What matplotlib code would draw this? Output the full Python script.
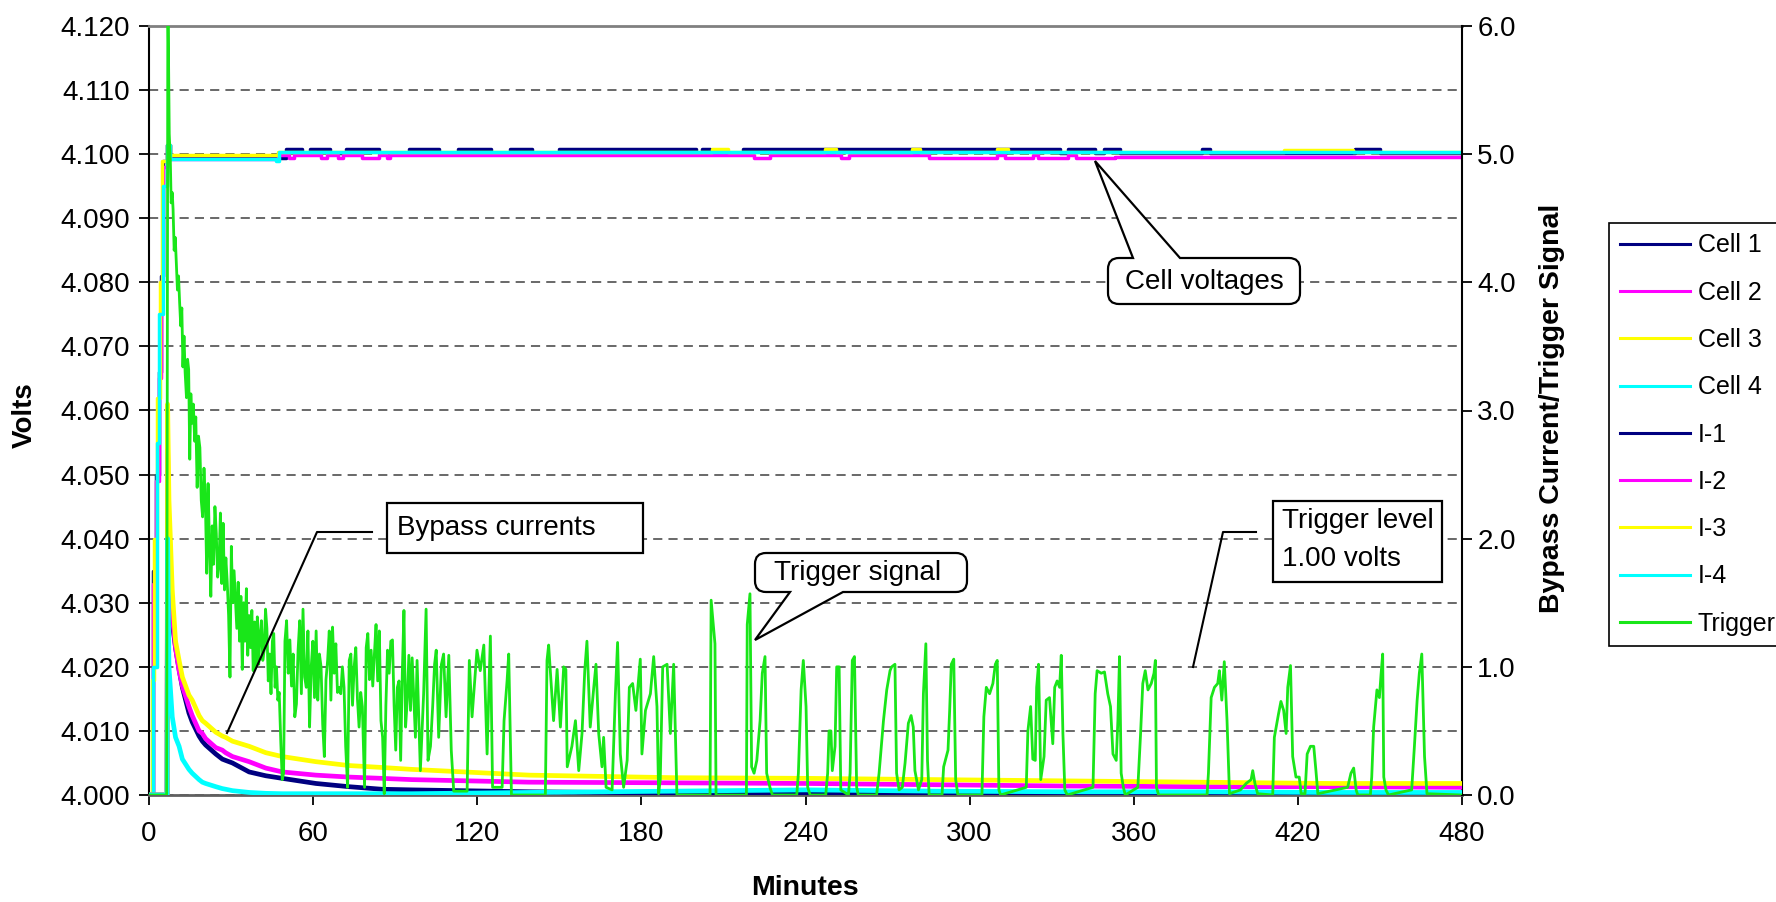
import matplotlib
matplotlib.use('Agg')
import matplotlib.pyplot as plt
from matplotlib.path import Path
from matplotlib.patches import PathPatch, Rectangle
from matplotlib.lines import Line2D
from matplotlib.transforms import Affine2D
from matplotlib.ticker import FormatStrFormatter, MultipleLocator

plt.rcParams['font.family'] = ['Liberation Sans', 'DejaVu Sans']

# ---------------- data ----------------
x_ticks = [0, 60, 120, 180, 240, 300, 360, 420, 480]

# cell voltages (left axis, volts) - step data
cell1_t = [0, 1.5, 2.5, 3.5, 4.3, 5.0, 6.5, 7.5, 50, 56, 59, 66, 72, 84, 95, 106, 113, 125,
           132, 140, 150, 200, 202, 205, 217, 333, 336, 346, 349, 355, 385, 388, 441, 450, 480]
cell1_v = [3.99, 4.035, 4.050, 4.066, 4.081, 4.099, 4.1015, 4.0994, 4.1008, 4.1002, 4.1008,
           4.1002, 4.1008, 4.1002, 4.1008, 4.1002, 4.1008, 4.1002, 4.1008, 4.1002, 4.1008,
           4.1002, 4.1008, 4.1002, 4.1008, 4.1002, 4.1008, 4.1002, 4.1008, 4.1002, 4.1008,
           4.1002, 4.1008, 4.1002, 4.1002]
cell2_t = [0, 1.5, 2.5, 3.5, 4.3, 5.0, 6.5, 7.5, 47, 51, 53, 63, 65, 69, 71, 78, 84, 87, 88,
           221, 227, 253, 256, 285, 310, 313, 323, 325, 336, 339, 353, 480]
cell2_v = [3.99, 4.033, 4.049, 4.065, 4.080, 4.098, 4.1015, 4.0993, 4.0998, 4.0994, 4.0998,
           4.0994, 4.0998, 4.0994, 4.0998, 4.0994, 4.0998, 4.0994, 4.0998, 4.0994, 4.0998,
           4.0994, 4.0998, 4.0994, 4.0998, 4.0994, 4.0998, 4.0994, 4.0998, 4.0994, 4.0995, 4.0995]
cell3_t = [0, 1.2, 2.0, 3.0, 4.0, 4.9, 6.5, 7.5, 47, 206, 211.5, 247, 251, 279, 282, 310, 314,
           415, 440, 480]
cell3_v = [3.99, 4.018, 4.040, 4.062, 4.080, 4.099, 4.1015, 4.0999, 4.1003, 4.1008, 4.1003,
           4.1008, 4.1003, 4.1008, 4.1003, 4.1008, 4.1003, 4.1007, 4.1003, 4.1003]
cell4_t = [0, 0.9, 1.5, 2.8, 3.7, 5.2, 6.5, 7.5, 46.5, 47.5, 480]
cell4_v = [3.99, 4.000, 4.020, 4.055, 4.075, 4.095, 4.1015, 4.0993, 4.0990, 4.1003, 4.1003]

# bypass currents (right axis, amps)
curr_t = [0, 6.6, 6.8, 7.3, 8.5, 9.7, 11.0, 12.2, 14.6, 15.8, 18.3, 19.5, 20.7, 24.4, 26.8,
          28.0, 30.5, 36.6, 42.7, 48.7, 61.0, 73.0, 85.0, 96.0, 139.0, 192.0, 240.0, 288.0,
          336.0, 384.0, 432.0, 480.0]
i1_v = [0, 0, 2.2, 1.6, 1.35, 1.15, 0.98, 0.84, 0.64, 0.57, 0.46, 0.42, 0.39, 0.32, 0.28,
        0.27, 0.25, 0.18, 0.15, 0.13, 0.09, 0.065, 0.045, 0.04, 0.025, 0.015, 0.01, 0.01,
        0.008, 0.006, 0.005, 0.005]
i2_v = [0, 0, 2.7, 1.9, 1.40, 1.15, 0.97, 0.85, 0.69, 0.62, 0.50, 0.48, 0.44, 0.37, 0.35,
        0.33, 0.30, 0.26, 0.21, 0.18, 0.155, 0.14, 0.13, 0.12, 0.10, 0.095, 0.09, 0.08,
        0.07, 0.065, 0.065, 0.06]
i3_v = [0, 0, 3.05, 2.3, 1.6, 1.2, 1.05, 0.92, 0.78, 0.74, 0.62, 0.58, 0.56, 0.49, 0.46,
        0.45, 0.42, 0.38, 0.33, 0.30, 0.26, 0.23, 0.215, 0.20, 0.155, 0.135, 0.13, 0.12,
        0.11, 0.10, 0.09, 0.09]
i4_v = [0, 0, 2.0, 1.0, 0.61, 0.45, 0.38, 0.28, 0.20, 0.17, 0.12, 0.10, 0.09, 0.065, 0.05,
        0.045, 0.034, 0.02, 0.013, 0.01, 0.01, 0.01, 0.01, 0.01, 0.02, 0.03, 0.04, 0.03,
        0.025, 0.025, 0.02, 0.02]

# trigger signal (right axis, volts)
trig_t = [0, 6.45, 6.9, 7.4, 7.8, 8.1, 8.5, 8.8, 9.2, 9.6, 9.9, 10.4, 10.8, 11.2, 11.6, 12.0,
          12.4, 12.8, 13.2, 13.7, 14.1, 14.5, 14.9, 15.3, 15.7, 16.2, 16.7, 17.1, 17.6, 18.1,
          18.6, 19.1, 19.6, 20.1, 20.6, 21.1, 21.6, 22.1, 22.6, 23.1, 23.6, 24.1, 24.6, 25.1,
          25.6, 26.1, 26.6, 27.1, 27.6, 28.1, 28.6, 29.1, 29.6, 30.1, 30.6, 31.1, 31.6, 32.1,
          32.6, 33.1, 33.6, 34.1, 34.6, 35.1, 35.6, 36.1, 36.6, 37.1, 37.6, 38.1, 38.6, 39.1,
          39.6, 40.1, 40.6, 41.1, 41.6, 42.1, 42.6, 43.1, 43.6, 44.1, 44.6, 45.1, 45.6, 46.1,
          46.6, 47.1, 47.6, 48.2, 48.7, 49.2, 49.7, 50.3,
          50.9, 51.5, 52.1, 52.7, 53.3, 53.9, 54.5, 55.1, 55.7, 56.3, 56.9, 57.5, 58.1, 58.7,
          59.3, 59.9, 60.5, 61.1, 61.7, 62.3, 62.9, 63.5, 64.1, 64.7, 65.3, 65.9, 66.5, 67.1,
          67.7, 68.3, 68.9, 69.5, 70.1, 70.7, 71.3, 71.9, 72.6, 73.2, 73.8, 74.4, 75.0, 75.6,
          76.2, 76.8, 77.4, 78.0, 78.8, 79.4, 80.0, 80.6, 81.2, 81.8, 82.4, 83.0, 83.6, 84.2,
          84.8, 85.4, 86.0, 86.6, 87.2, 87.8, 88.4, 89.0, 89.6, 90.2, 90.8, 91.4, 92.0, 92.6,
          93.2, 93.8, 94.4, 95.0, 95.6,
          96.2, 97.4, 98.0, 99.2, 100.4, 101.3, 102.0, 102.9, 103.7, 104.4, 105.0, 105.9,
          106.9, 107.7, 108.6, 109.6, 110.5, 111.4, 116.3, 117.1, 118.1, 119.9, 121.1, 122.4,
          123.6, 124.8, 125.6, 129.1, 129.8, 130.9, 131.5, 132.5, 144.9, 145.5, 146.1, 147.9,
          149.2, 150.4, 151.6, 152.4, 152.9, 154.6, 155.9, 157.1, 158.3, 159.3, 160.1, 161.3,
          162.6, 163.4, 164.4, 165.6, 166.2, 167.1, 169.3, 170.5, 171.3, 172.3, 173.5, 174.8,
          175.6, 176.8, 178.0, 179.6, 180.2, 181.5, 183.3, 184.5, 185.7, 186.3, 186.9, 187.8,
          189.4, 190.6, 191.8, 193.0,
          205.1, 205.5, 206.9, 207.3, 218.4, 218.7, 219.7, 220.3, 221.2, 222.2, 223.4, 224.2,
          225.2, 225.8, 227.0, 227.9, 236.8, 237.4, 238.4, 239.2, 240.2, 240.8, 241.7, 247.4,
          248.1, 248.6, 249.3, 249.8, 250.8, 251.4, 252.3, 252.9, 255.7, 256.3, 257.1, 257.9,
          258.7, 259.3, 266.0, 266.9, 268.5, 269.7, 270.9, 271.5, 272.7, 273.3, 274.2, 275.4,
          276.4, 277.6, 278.6, 279.4, 280.0, 281.3, 282.5, 283.1, 284.0, 284.6, 285.2,
          289.9, 290.5, 292.1, 292.7, 293.3, 294.2, 294.9, 295.7, 304.5, 305.2, 306.1, 307.3,
          308.5, 309.4, 310.1, 310.7, 311.3, 320.7, 321.3, 322.3, 323.1, 324.0, 324.5, 325.2,
          326.0, 327.2, 328.0, 329.2, 330.4, 331.1, 332.0, 332.9, 333.5, 334.1, 334.8, 335.7,
          345.1, 345.9, 346.6, 348.1, 349.3, 350.5, 351.5, 352.4, 353.6, 354.2, 354.8, 355.4,
          356.2, 356.9, 361.5, 362.5, 363.3, 364.2, 365.2, 366.4, 367.4, 367.9, 368.3, 369.1,
          386.8, 387.3, 388.3, 389.5, 390.7, 391.3, 392.2, 393.1, 394.1, 395.0, 399.0, 401.1,
          402.9, 403.5, 404.3, 405.3, 410.8, 411.4, 412.9, 413.8, 414.8, 415.7, 416.3, 417.3,
          418.1, 419.3, 420.5, 421.2, 422.6, 423.4, 424.6, 425.8, 426.6, 427.3, 438.2, 439.4,
          440.4, 441.3, 441.9, 446.5, 447.0, 447.7, 448.9, 449.8, 450.4, 451.0, 451.4, 452.2,
          453.1, 461.6, 462.6, 463.6, 464.4, 465.3, 466.3, 467.2, 480.0]
trig_v = [0, 0, 6.3, 5.16, 4.95, 4.62, 4.70, 4.57, 4.25, 4.35, 4.20, 3.94, 4.05, 3.84, 3.66,
          3.80, 3.34, 3.58, 3.30, 3.10, 3.40, 3.32, 2.62, 3.13, 2.90, 3.05, 2.76, 2.95, 2.40,
          2.80, 2.71, 2.30, 2.17, 2.55, 2.30, 1.73, 2.43, 1.95, 1.55, 2.10, 1.80, 2.25, 2.04,
          1.70, 1.79, 2.20, 1.65, 2.12, 1.60, 1.85, 1.66, 1.40, 0.92, 1.94, 1.50, 1.75, 1.53,
          1.30, 1.66, 1.20, 1.55, 0.98, 1.50, 1.20, 1.61, 1.09, 1.40, 1.15, 1.44, 0.97, 1.35,
          1.00, 1.39, 1.02, 1.25, 1.36, 1.05, 1.13, 1.45, 1.30, 0.89, 1.10, 0.79, 1.20, 1.26,
          0.84, 1.00, 0.74, 0.80, 0.40, 0.12, 0.17, 1.20, 1.36,
          0.95, 1.21, 0.85, 1.10, 0.61, 0.71, 1.13, 1.36, 0.79, 1.45, 0.92, 0.84, 1.28, 0.53,
          1.00, 1.20, 0.76, 1.28, 0.74, 1.10, 1.00, 0.55, 0.30, 0.90, 1.05, 1.28, 0.74, 1.31,
          0.95, 1.18, 0.80, 0.84, 0.79, 1.00, 0.84, 0.38, 0.06, 1.05, 1.10, 0.70, 1.00, 1.15,
          0.75, 0.53, 0.80, 0.69, 0.06, 1.15, 1.26, 0.90, 1.13, 0.85, 1.10, 1.33, 0.89, 1.28,
          0.58, 0.45, 0.01, 0.70, 1.13, 0.95, 1.20, 1.21, 0.70, 0.35, 0.84, 0.89, 0.27, 0.95,
          1.44, 0.53, 0.74, 1.09, 0.66,
          1.07, 0.45, 1.05, 0.19, 0.79, 1.45, 0.27, 0.38, 0.69, 1.02, 1.13, 0.45,
          1.02, 1.10, 0.61, 1.09, 0.35, 0.03, 0.03, 1.05, 0.61, 1.13, 0.97, 1.17,
          0.32, 1.24, 0.06, 0.06, 0.58, 0.89, 1.10, 0.0, 0.0, 1.05, 1.17, 0.58,
          0.98, 0.53, 1.00, 0.98, 0.22, 0.38, 0.58, 0.19, 0.48, 0.97, 1.20, 0.53,
          0.84, 1.02, 0.48, 0.22, 0.45, 0.06, 0.04, 0.79, 1.19, 0.32, 0.06, 0.27,
          0.84, 0.87, 0.66, 1.06, 0.32, 0.66, 0.79, 1.08, 0.69, 0.01, 0.12, 1.00,
          1.02, 0.48, 1.02, 0.0,
          0.0, 1.52, 1.18, 0.0, 0.0, 1.33, 1.57, 0.22, 0.17, 0.27, 0.58, 0.95,
          1.08, 0.17, 0.06, 0.0, 0.0, 0.17, 0.82, 1.05, 0.69, 0.06, 0.0, 0.0,
          0.17, 0.50, 0.50, 0.19, 0.38, 1.00, 1.00, 0.04, 0.0, 0.17, 1.05, 1.08,
          0.06, 0.0, 0.0, 0.17, 0.58, 0.82, 0.97, 1.00, 1.02, 0.17, 0.04, 0.06,
          0.25, 0.56, 0.62, 0.53, 0.19, 0.04, 0.12, 0.79, 1.18, 0.27, 0.0,
          0.0, 0.22, 0.35, 0.66, 1.02, 1.06, 0.12, 0.0, 0.0, 0.61, 0.84, 0.79,
          0.87, 1.02, 1.05, 0.04, 0.0, 0.06, 0.50, 0.69, 0.28, 0.27, 0.84, 1.02,
          0.12, 0.30, 0.74, 0.76, 0.40, 0.84, 0.89, 0.84, 1.09, 0.48, 0.04, 0.0,
          0.06, 0.79, 0.97, 0.95, 0.96, 0.79, 0.69, 0.32, 0.27, 0.58, 1.08, 0.17,
          0.06, 0.0, 0.06, 0.48, 0.87, 0.97, 0.82, 0.87, 0.95, 1.05, 0.06, 0.0,
          0.0, 0.17, 0.76, 0.84, 0.87, 0.97, 0.74, 1.04, 0.58, 0.01, 0.04, 0.09,
          0.12, 0.19, 0.09, 0.01, 0.0, 0.45, 0.63, 0.73, 0.66, 0.48, 0.84, 1.01,
          0.30, 0.14, 0.14, 0.01, 0.01, 0.32, 0.38, 0.38, 0.19, 0.01, 0.06, 0.17,
          0.21, 0.04, 0.0, 0.0, 0.14, 0.53, 0.82, 0.76, 0.94, 1.10, 0.14, 0.04,
          0.0, 0.04, 0.38, 0.74, 0.95, 1.10, 0.30, 0.01, 0.0]

series_labels = ['Cell 1', 'Cell 2', 'Cell 3', 'Cell 4', 'I-1', 'I-2', 'I-3', 'I-4', 'Trigger']
series_colors = ['#000080', '#FF00FF', '#FFFF00', '#00FFFF',
                 '#000080', '#FF00FF', '#FFFF00', '#00FFFF', '#19E619']

# ---------------- figure ----------------
W, H = 1776, 902
fig = plt.figure(figsize=(W / 100, H / 100), dpi=100)
fig.patch.set_facecolor('white')
ax = fig.add_axes([149 / W, 1 - 795 / H, (1462 - 149) / W, (795 - 26) / H])
ax2 = ax.twinx()

handles = []
for t, v, c in zip([cell1_t, cell2_t, cell3_t, cell4_t], [cell1_v, cell2_v, cell3_v, cell4_v],
                   series_colors[:4]):
    ln, = ax.plot(t, v, color=c, lw=2.5, drawstyle='steps-post', zorder=2)
    handles.append(ln)
for v, c in zip([i1_v, i2_v, i3_v, i4_v], series_colors[4:8]):
    ln, = ax2.plot(curr_t, v, color=c, lw=3.4, zorder=3)
    handles.append(ln)
ln, = ax2.plot(trig_t, trig_v, color=series_colors[8], lw=2.0, zorder=4)
handles.append(ln)

ax.set_xlim(0, 480)
ax.set_ylim(4.0, 4.12)
ax2.set_ylim(0, 6)
ax.set_xticks(x_ticks)
ax.yaxis.set_major_locator(MultipleLocator(0.01))
ax.yaxis.set_major_formatter(FormatStrFormatter('%.3f'))
ax2.yaxis.set_major_locator(MultipleLocator(1.0))
ax2.yaxis.set_major_formatter(FormatStrFormatter('%.1f'))

ax.set_axisbelow(True)
ax.yaxis.grid(True, color='#404040', linestyle=(0, (6, 4)), linewidth=1.1)

ax.tick_params(axis='both', direction='out', length=7, width=1.3, labelsize=20)
ax.tick_params(axis='y', pad=7)
ax.tick_params(axis='x', pad=12)
ax2.tick_params(axis='y', direction='out', length=7, width=1.3, labelsize=20, pad=4)

ax.spines['left'].set_color('black'); ax.spines['left'].set_linewidth(1.5)
ax.spines['top'].set_color('#808080'); ax.spines['top'].set_linewidth(2.0)
ax.spines['bottom'].set_color('#606060'); ax.spines['bottom'].set_linewidth(2.0)
ax.spines['right'].set_visible(False)
for s in ['left', 'top', 'bottom']:
    ax2.spines[s].set_visible(False)
ax2.spines['right'].set_color('black'); ax2.spines['right'].set_linewidth(1.5)

# axis titles
fig.text(25 / W, 1 - 415 / H, 'Volts', rotation=90, ha='center', va='center',
         fontsize=20, fontweight='bold')
fig.text(805 / W, 1 - 888 / H, 'Minutes', ha='center', va='center',
         fontsize=20.5, fontweight='bold')
fig.text(1552 / W, 1 - 408 / H, 'Bypass Current/Trigger Signal', rotation=90, ha='center',
         va='center', fontsize=20.5, fontweight='bold')

# legend
leg = fig.legend(handles, series_labels, loc='upper left',
                 bbox_to_anchor=(1609 / W, 1 - 223 / H), bbox_transform=fig.transFigure,
                 frameon=True, fancybox=False, edgecolor='black', framealpha=1, fontsize=18,
                 handlelength=2.8, handletextpad=0.32, labelspacing=0.93, borderpad=0.42,
                 borderaxespad=0)
leg.get_frame().set_linewidth(1.2)
for lh in leg.get_lines():
    lh.set_linewidth(2.2)

# ---------------- annotations (pixel coordinates, y from top) ----------------
px = Affine2D().scale(1 / W, -1 / H).translate(0, 1) + fig.transFigure


def bubble(x0, y0, x1, y1, r, edge, ba, bb, tip):
    V, C = [], []
    V.append((x0 + r, y0)); C.append(Path.MOVETO)
    if edge == 'top':
        V += [(ba, y0), tip, (bb, y0)]; C += [Path.LINETO] * 3
    V.append((x1 - r, y0)); C.append(Path.LINETO)
    V += [(x1, y0), (x1, y0 + r)]; C += [Path.CURVE3] * 2
    V.append((x1, y1 - r)); C.append(Path.LINETO)
    V += [(x1, y1), (x1 - r, y1)]; C += [Path.CURVE3] * 2
    if edge == 'bottom':
        V += [(bb, y1), tip, (ba, y1)]; C += [Path.LINETO] * 3
    V.append((x0 + r, y1)); C.append(Path.LINETO)
    V += [(x0, y1), (x0, y1 - r)]; C += [Path.CURVE3] * 2
    V.append((x0, y0 + r)); C.append(Path.LINETO)
    V += [(x0, y0), (x0 + r, y0)]; C += [Path.CURVE3] * 2
    V.append((x0 + r, y0)); C.append(Path.CLOSEPOLY)
    p = PathPatch(Path(V, C), facecolor='white', edgecolor='black', lw=1.6,
                  transform=px, zorder=10)
    fig.add_artist(p)


def rect(x0, y0, x1, y1):
    fig.add_artist(Rectangle((x0, y0), x1 - x0, y1 - y0, facecolor='white', edgecolor='black',
                             lw=1.6, transform=px, zorder=10))


def leader(xs, ys):
    fig.add_artist(Line2D(xs, ys, color='black', lw=1.5, transform=px, zorder=10))


# Bypass currents
leader([372, 317, 227], [532, 532, 733])
rect(387, 503, 643, 553)
fig.text(397, 528, 'Bypass currents', transform=px, ha='left', va='center', fontsize=20, zorder=11)

# Trigger signal
bubble(755, 553, 967, 592, 11, 'bottom', 790, 843, (755, 640))
fig.text(858, 573, 'Trigger signal', transform=px, ha='center', va='center', fontsize=20,
         zorder=11)

# Trigger level
leader([1256, 1223, 1193], [532, 532, 667])
rect(1273, 501, 1442, 582)
fig.text(1282, 521, 'Trigger level', transform=px, ha='left', va='center', fontsize=20, zorder=11)
fig.text(1282, 559, '1.00 volts', transform=px, ha='left', va='center', fontsize=20, zorder=11)

# Cell voltages
bubble(1108, 258, 1300, 304, 11, 'top', 1133, 1180, (1095, 161))
fig.text(1204, 282, 'Cell voltages', transform=px, ha='center', va='center', fontsize=20,
         zorder=11)

fig.savefig('out.png', dpi=100)
